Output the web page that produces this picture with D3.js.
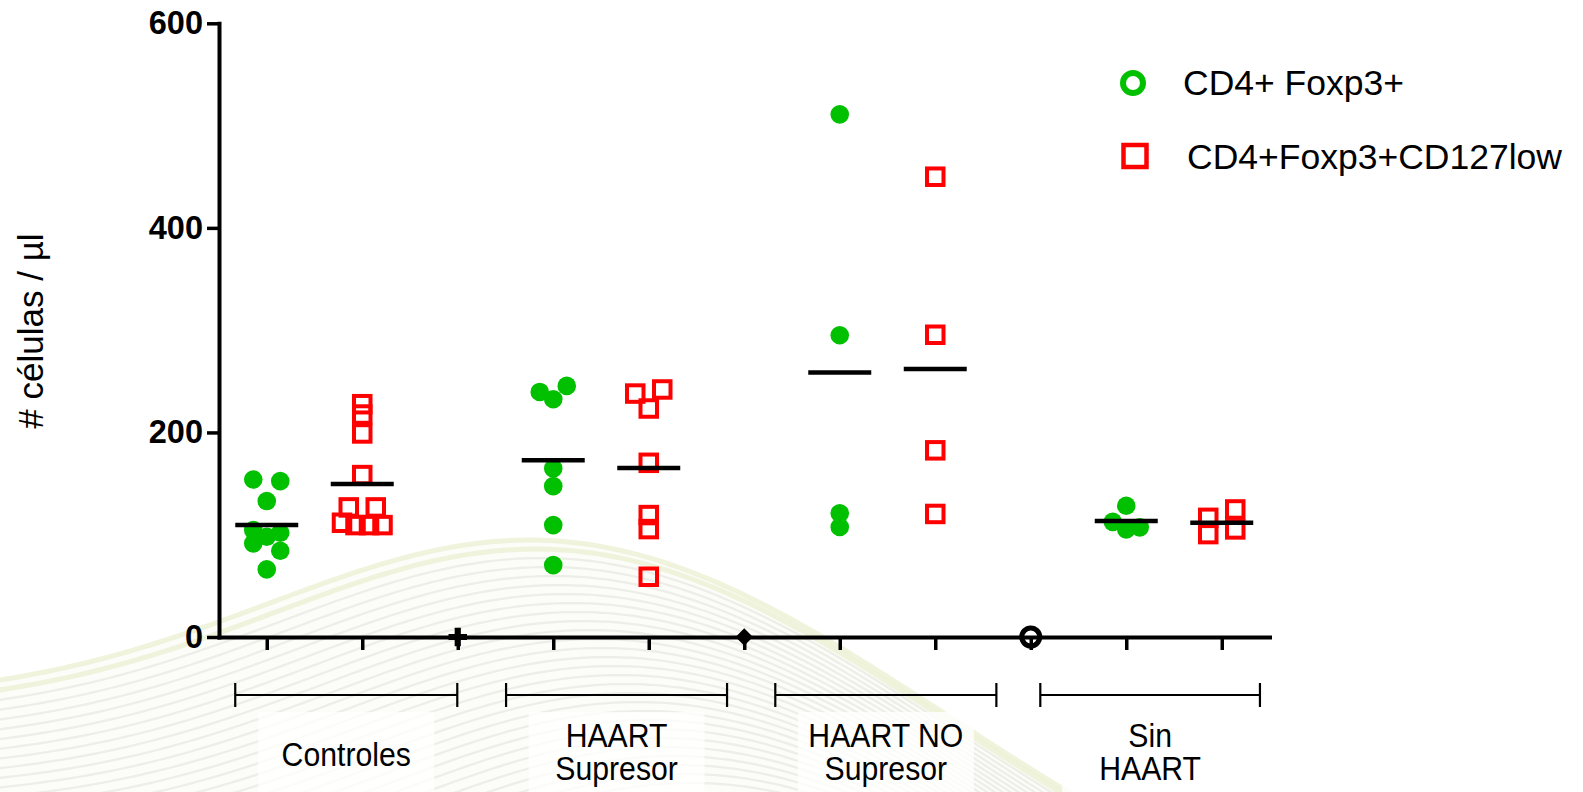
<!DOCTYPE html>
<html>
<head>
<meta charset="utf-8">
<script src="https://cdn.jsdelivr.net/npm/d3@7"></script>
<style>
  html, body { margin: 0; padding: 0; background: #fff; }
  svg { display: block; }
  text { font-family: "Liberation Sans", Arial, Helvetica, sans-serif; fill: #000; }
</style>
</head>
<body>
<script>
// Patient groups and the two regulatory T-cell populations counted in each
const groupLines = [["Controles"], ["HAART", "Supresor"], ["HAART NO", "Supresor"], ["Sin", "HAART"]];
const seriesNames = ["CD4+ Foxp3+", "CD4+Foxp3+CD127low"];

// Absolute counts (cells / µl), one value per subject, listed group by group
const foxp3 = [
  [154, 152.4, 132.9, 104.5, 98, 101.9, 91.5, 84.3, 66.1],
  [239.6, 245.5, 232.5, 164.8, 147.5, 109.4, 70.3],
  [511, 295, 121, 107.5],
  [128.3, 112.6, 105.2, 107.2]
];
const cd127low = [
  [227.6, 217.5, 199, 158.3, 126.7, 126.7, 111.7, 109.4, 109.4, 109.4],
  [238, 242, 223.4, 170.3, 119.2, 105.5, 58.9],
  [450, 295.5, 182.5, 120.3],
  [116.5, 124.7, 100.6, 105.2]
];
const yTicks = [0, 200, 400, 600];

// ---- layout ----
const W = 1583, H = 792;
const FONT = '"Liberation Sans", Arial, Helvetica, sans-serif';
const colors = { foxp3: "#00c000", cd127: "#ff0000" };
const svg = d3.select("body").append("svg").attr("width", W).attr("height", H);

// Each group takes three column slots: two series plus an empty spacer slot
const x = d3.scaleLinear().domain([-0.5, 10.5]).range([219, 1269.5]);
const y = d3.scaleLinear().domain([0, 600]).range([637, 23.3]);
const slotOf = (g, s) => g * 3 + s;

// ---- soft wave pattern in the lower background ----
const bg = svg.append("g");
function wave(k) {
  const cx = 530 + 6 * k, py = 540 + 9 * k;
  return d3.range(-10, 1320, 8).map(px => {
    const dx = px - cx;
    const dy = dx < 0
      ? 160 * (1 - Math.exp(-(dx * dx) / (2 * 260 * 260)))
      : 450 * (1 - Math.exp(-(dx * dx) / (2 * 420 * 420)));
    return [px, py + dy];
  });
}
const waveLine = d3.line().curve(d3.curveBasis);
const firstWave = wave(0);
bg.append("path")
  .attr("d", waveLine(firstWave.concat([[1320, H + 10], [-10, H + 10]])))
  .attr("fill", "#fcfcf8");
d3.range(0, 28).forEach(k => {
  bg.append("path")
    .attr("d", waveLine(wave(k)))
    .attr("fill", "none")
    .attr("stroke", k < 2 ? "#eaf0cf" : "#dfe1d9")
    .attr("stroke-width", k < 2 ? 5 : 2.2)
    .attr("opacity", k < 2 ? 0.7 : 0.55);
});

// ---- axes ----
const yAxis = d3.axisLeft(y).tickValues(yTicks).tickSize(12).tickSizeOuter(0).tickPadding(4);
const gy = svg.append("g").attr("transform", `translate(${x(-0.5)},0)`).call(yAxis);
gy.select(".domain").attr("stroke", "#000").attr("stroke-width", 4).attr("stroke-linecap", "square");
gy.selectAll(".tick line").attr("stroke", "#000").attr("stroke-width", 3.5);
gy.selectAll(".tick text")
  .attr("font-family", FONT).attr("font-size", 32.5).attr("font-weight", "bold").attr("fill", "#000");

const xAxis = d3.axisBottom(x).tickValues(d3.range(11)).tickSize(13).tickSizeOuter(0).tickFormat("");
const gx = svg.append("g").attr("transform", `translate(0,${y(0)})`).call(xAxis);
gx.select(".domain").attr("stroke", "#000").attr("stroke-width", 4).attr("stroke-linecap", "square");
gx.selectAll(".tick line").attr("stroke", "#000").attr("stroke-width", 3.5);

// Empty spacer columns sit at zero with their own symbols
const spacerSlots = [2, 5, 8];
const spacer = svg.append("g");
spacer.append("path")
  .attr("transform", `translate(${x(spacerSlots[0])},${y(0)})`)
  .attr("d", d3.symbol(d3.symbolCross, 190)()).attr("fill", "#000");
spacer.append("path")
  .attr("transform", `translate(${x(spacerSlots[1])},${y(0)}) rotate(45)`)
  .attr("d", d3.symbol(d3.symbolSquare, 150)()).attr("fill", "#000");
spacer.append("circle")
  .attr("cx", x(spacerSlots[2])).attr("cy", y(0)).attr("r", 9)
  .attr("fill", "none").attr("stroke", "#000").attr("stroke-width", 5);

// Y axis title
svg.append("text")
  .attr("transform", "translate(43,331) rotate(-90)")
  .attr("text-anchor", "middle")
  .attr("font-size", 35)
  .text("# células / µl");

// ---- scatter points: close values share a row and spread sideways ----
const STEP = 13.5, ROW_GAP = 9;
function spread(values) {
  const order = values.map((v, i) => i).sort((a, b) => values[b] - values[a] || a - b);
  const rows = [];
  order.forEach(i => {
    const row = rows[rows.length - 1];
    if (row && values[row[0]] - values[i] < ROW_GAP) row.push(i);
    else rows.push([i]);
  });
  const off = new Array(values.length).fill(0);
  rows.forEach(row => {
    const members = row.slice().sort((a, b) => a - b);
    const n = members.length;
    members.forEach((idx, k) => {
      off[idx] = n === 2 ? (k === 0 ? -1 : 1) : k - (n - 1) / 2;
    });
  });
  return off;
}

const pts = svg.append("g");
const means = svg.append("g");
function drawSeries(data, s) {
  data.forEach((vals, g) => {
    const cx = x(slotOf(g, s));
    const off = spread(vals);
    const sel = pts.append("g");
    if (s === 0) {
      sel.selectAll("circle").data(vals).join("circle")
        .attr("cx", (d, i) => cx + off[i] * STEP)
        .attr("cy", d => y(d))
        .attr("r", 9.3)
        .attr("fill", colors.foxp3);
    } else {
      const side = 16.5;
      sel.selectAll("rect").data(vals).join("rect")
        .attr("x", (d, i) => cx + off[i] * STEP - side / 2)
        .attr("y", d => y(d) - side / 2)
        .attr("width", side).attr("height", side)
        .attr("fill", "none")
        .attr("stroke", colors.cd127)
        .attr("stroke-width", 4);
    }
    const m = d3.mean(vals);
    means.append("line")
      .attr("x1", cx - 31.5).attr("x2", cx + 31.5)
      .attr("y1", y(m)).attr("y2", y(m))
      .attr("stroke", "#000").attr("stroke-width", 4.5);
  });
}
drawSeries(foxp3, 0);
drawSeries(cd127low, 1);

// ---- group brackets and names under the axis ----
const bracketSpans = [[-0.33, 1.995], [2.506, 4.82], [5.325, 7.64], [8.1, 10.4]];
const ann = svg.append("g");
bracketSpans.forEach(([a, b], g) => {
  const x1 = x(a), x2 = x(b), by = 695, mid = (x1 + x2) / 2;
  ann.append("rect")
    .attr("x", mid - 88).attr("y", 712).attr("width", 176).attr("height", 80)
    .attr("fill", "#fff").attr("opacity", 0.8);
  ann.append("path")
    .attr("d", `M${x1},${by}H${x2}M${x1},${by - 12}V${by + 12}M${x2},${by - 12}V${by + 12}`)
    .attr("fill", "none").attr("stroke", "#000").attr("stroke-width", 2.2);
  const lines = groupLines[g];
  const baselines = lines.length === 1 ? [766] : [747, 780];
  lines.forEach((t, i) => {
    ann.append("text")
      .attr("transform", `translate(${mid},${baselines[i]}) scale(0.93,1)`)
      .attr("text-anchor", "middle")
      .attr("font-size", 32.5)
      .text(t);
  });
});

// ---- legend ----
const leg = svg.append("g");
leg.append("circle").attr("cx", 1133).attr("cy", 83).attr("r", 10)
  .attr("fill", "none").attr("stroke", colors.foxp3).attr("stroke-width", 6);
leg.append("text").attr("x", 1183).attr("y", 94.5).attr("font-size", 35.5).text(seriesNames[0]);
leg.append("rect").attr("x", 1135 - 11.5).attr("y", 156 - 11).attr("width", 23).attr("height", 22)
  .attr("fill", "none").attr("stroke", colors.cd127).attr("stroke-width", 4.5);
leg.append("text").attr("x", 1187).attr("y", 169).attr("font-size", 35.5).text(seriesNames[1]);
</script>
</body>
</html>
